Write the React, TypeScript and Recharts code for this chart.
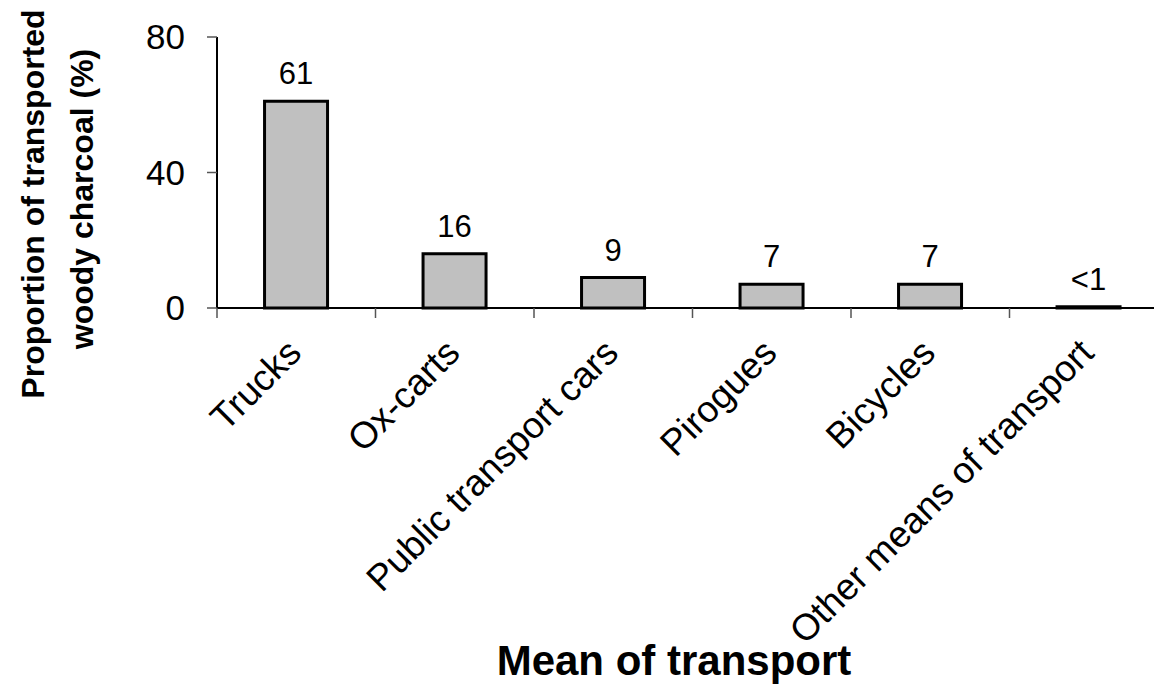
import { BarChart, Bar, XAxis, YAxis, LabelList, Label } from "recharts"

const CATEGORIES = [
	"Trucks",
	"Ox-carts",
	"Public transport cars",
	"Pirogues",
	"Bicycles",
	"Other means of transport",
]
const SHARES = [61, 16, 9, 7, 7, 0.4]
const SHARE_LABELS = ["61", "16", "9", "7", "7", "<1"]
const Y_TICKS = [0, 40, 80]

const FONT = "'Liberation Sans', Arial, sans-serif"
const WIDTH = 1170
const HEIGHT = 678
const MARGIN = { top: 29, right: 10, bottom: 0, left: 0 }
const Y_AXIS_WIDTH = 209
const HALF_BAND = (WIDTH - MARGIN.right - Y_AXIS_WIDTH) / CATEGORIES.length / 2

const data = CATEGORIES.map((name, i) => ({ name, share: SHARES[i], label: SHARE_LABELS[i] }))

// category labels at the centre, tick marks at the category edges
function CategoryTick(props: any) {
	const { x, y, payload } = props
	const edge = x - (payload.offset || HALF_BAND)
	return (
		<g>
			<line x1={edge} y1={y} x2={edge} y2={y + 10} stroke="#555" strokeWidth={1.5} />
			<g transform={`translate(${x + 7},${y + 47})`}>
				<text textAnchor="end" transform="rotate(-45)" fontSize={37} fill="#000" fontFamily={FONT}>
					{payload.value}
				</text>
			</g>
		</g>
	)
}

function YTitle() {
	return (
		<g fontFamily={FONT} fontWeight="bold" fontSize={32} fill="#000" textAnchor="middle">
			<text transform="translate(36,196) rotate(-90)">Proportion of transported</text>
			<text transform="translate(85,191) rotate(-90)">woody charcoal (%)</text>
		</g>
	)
}

function XTitle() {
	return (
		<text x={666} y={667} textAnchor="middle" fontFamily={FONT} fontWeight="bold" fontSize={42} fill="#000">
			Mean of transport
		</text>
	)
}

export default function App() {
	return (
		<div style={{ width: 1154, height: HEIGHT, overflow: "hidden" }}>
			<BarChart width={WIDTH} height={HEIGHT} data={data} margin={MARGIN} barCategoryGap="30%">
				<XAxis
					dataKey="name"
					type="category"
					height={378}
					interval={0}
					axisLine={{ stroke: "#000", strokeWidth: 2 }}
					tickLine={false}
					tickSize={0}
					tickMargin={0}
					tick={<CategoryTick />}
				>
					<Label content={<XTitle />} />
				</XAxis>
				<YAxis
					domain={[0, 80]}
					ticks={Y_TICKS}
					width={Y_AXIS_WIDTH}
					tickSize={10}
					tickMargin={22}
					axisLine={{ stroke: "#000", strokeWidth: 2 }}
					tickLine={{ stroke: "#555", strokeWidth: 1.5 }}
					tick={{ fontSize: 35, fill: "#000", fontFamily: FONT }}
				>
					<Label content={<YTitle />} />
				</YAxis>
				<Bar dataKey="share" fill="#C0C0C0" stroke="#000" strokeWidth={3} isAnimationActive={false}>
					<LabelList dataKey="label" position="top" offset={17} fontSize={31} fill="#000" fontFamily={FONT} />
				</Bar>
			</BarChart>
		</div>
	)
}
